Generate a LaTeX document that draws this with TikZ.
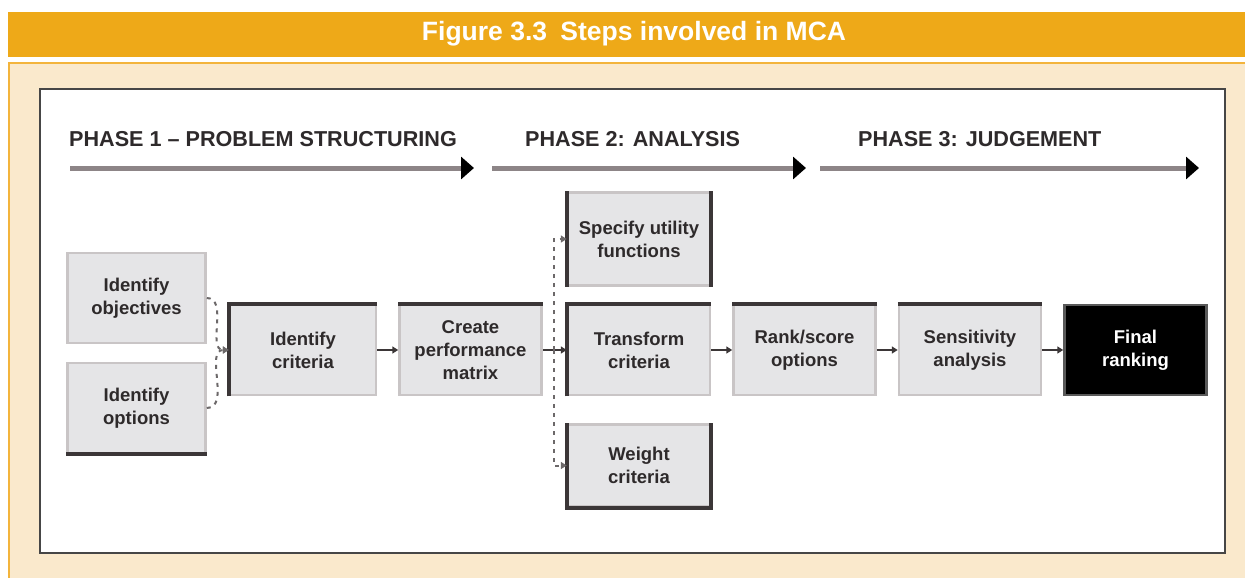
\documentclass[tikz,border=0pt]{standalone}
\usepackage{fontspec}
\setmainfont{Liberation Sans}
\usetikzlibrary{arrows.meta, positioning, calc}

\definecolor{headbar}{HTML}{EEA918}
\definecolor{panelfill}{HTML}{FAE9CC}
\definecolor{panelrule}{HTML}{F3B43C}
\definecolor{boxfill}{HTML}{E5E5E7}
\definecolor{boxrule}{HTML}{C9C5C6}
\definecolor{rimdark}{HTML}{3B3637}
\definecolor{phasegray}{HTML}{8D8587}
\definecolor{inktext}{HTML}{2E2A2B}

\begin{document}
\begin{tikzpicture}[
  x=1pt, y=-1pt,
  node distance=21pt,
  >={Triangle[length=6pt,width=7pt]},
  stepbox/.style={draw=boxrule, line width=2.5pt, fill=boxfill, align=center, minimum width=142pt, minimum height=90pt, inner sep=2pt, text=inktext, font=\fontsize{18.5}{23}\selectfont\bfseries},
  lastbox/.style={stepbox, fill=black, draw=gray!70!black, text=white},
  rim/.style={draw=rimdark, line width=4pt},
  phase/.style={anchor=west, inner sep=0pt, text=inktext, font=\fontsize{21.6}{25}\selectfont\bfseries},
  phasearrow/.style={draw=phasegray, line width=5pt, -{Triangle[length=13pt,width=22pt,color=black]}},
  flow/.style={->, draw=rimdark, line width=2pt},
  branch/.style={flow, draw=rimdark!75, dash pattern=on 4pt off 5pt}
]
  \useasboundingbox (0,0) rectangle (1245,578);

  % frame: title bar, panel and white sheet
  \fill[white] (0,0) rectangle (1245,578);
  \fill[headbar] (8,12) rectangle (1245,57);
  \node[text=white, font=\fontsize{26.5}{30}\selectfont\bfseries] (title) at (634,34) {Figure 3.3\enspace Steps involved in MCA};
  \fill[panelfill] (8,62) rectangle (1245,578);
  \draw[panelrule, line width=2pt] (9,578) -- (9,63) -- (1245,63);
  \draw[draw=gray!55!black, fill=white, line width=1.5pt] (40,89) rectangle (1225,553);

  % phases along the top
  \node[phase] (ph1) at (69,139) {PHASE 1 -- PROBLEM STRUCTURING};
  \node[phase] (ph2) at (525,139) {PHASE 2: ANALYSIS};
  \node[phase] (ph3) at (858,139) {PHASE 3: JUDGEMENT};
  \coordinate (p1a) at (70,168);  \coordinate (p1b) at (474,168);
  \coordinate (p2a) at (492,168); \coordinate (p2b) at (806,168);
  \coordinate (p3a) at (820,168); \coordinate (p3b) at (1199,168);
  \draw[phasearrow] (p1a) -- (p1b);
  \draw[phasearrow] (p2a) -- (p2b);
  \draw[phasearrow] (p3a) -- (p3b);

  % main chain of steps
  \node[stepbox, minimum width=146pt] (crit) at (303,350) {Identify\\criteria};
  \node[stepbox, right=of crit] (mat) {Create\\performance\\matrix};
  \node[stepbox, right=24pt of mat] (trans) {Transform\\criteria};
  \node[stepbox, right=of trans] (rank) {Rank/score\\options};
  \node[stepbox, right=of rank] (sens) {Sensitivity\\analysis};
  \node[lastbox, right=of sens] (final) {Final\\ranking};

  % side branches
  \node[stepbox, above=17pt of trans, minimum height=93pt] (util) {Specify utility\\functions};
  \node[stepbox, below=27pt of trans, minimum height=82pt] (weight) {Weight\\criteria};
  \node[stepbox, left=22pt of crit, yshift=52pt, minimum width=138pt] (obj) {Identify\\objectives};
  \node[stepbox, left=22pt of crit, yshift=-58pt, minimum width=138pt] (opt) {Identify\\options};

  % dark edges on the boxes
  \draw[rim] (opt.south west) -- (opt.south east);
  \draw[rim] (crit.south west) -- (crit.north west) -- (crit.north east);
  \draw[rim] (mat.north west) -- (mat.north east);
  \draw[rim] (util.south west) -- (util.north west);
  \draw[rim] (util.north east) -- (util.south east);
  \draw[rim] (trans.south west) -- (trans.north west) -- (trans.north east);
  \draw[rim] (weight.north west) -- (weight.south west) -- (weight.south east) -- (weight.north east);
  \draw[rim] (rank.north west) -- (rank.north east);
  \draw[rim] (sens.north west) -- (sens.north east);

  % connectors
  \draw[branch] (obj.east) to[out=0, in=180] (crit.west);
  \draw[branch] (opt.east) to[out=0, in=180] (crit.west);
  \draw[flow] (crit) -- (mat);
  \draw[flow] (mat) -- (trans);
  \coordinate (fork) at ($(mat.east)!0.45!(trans.west)$);
  \draw[branch] (fork) |- (util.west);
  \draw[branch] (fork) |- (weight.west);
  \draw[flow] (trans) -- (rank);
  \draw[flow] (rank) -- (sens);
  \draw[flow] (sens) -- (final);
\end{tikzpicture}
\end{document}
